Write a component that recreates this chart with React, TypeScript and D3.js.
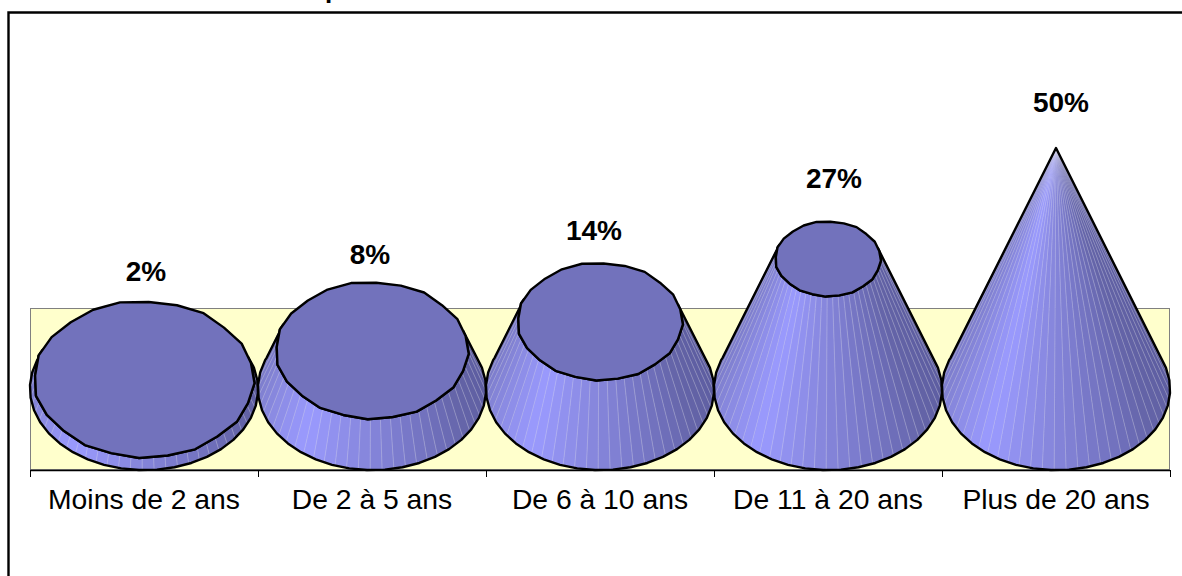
import React from "react";
import * as d3 from "d3";

const categories = ["Moins de 2 ans", "De 2 à 5 ans", "De 6 à 10 ans", "De 11 à 20 ans", "Plus de 20 ans"];
const values = [2, 8, 14, 27, 50];
const valueLabels = ["2%", "8%", "14%", "27%", "50%"];
// hand-read irregularity of the low-resolution rim polygons
const rimWobble = [1.01, 0.995, 1.005, 0.99, 1.01, 1.0, 1.012, 0.995, 1.005, 0.99, 1.0, 1.01, 0.995, 1.008, 1.0, 0.99, 1.005, 1.012, 0.995, 1.0, 1.012, 0.99, 1.005, 1.0];

const W = 1182, H = 576;
const FONT = "'Liberation Sans', Arial, sans-serif";
const RX = 114, RY = 81, SKX = -5, SKY = 4;
const TMIN = -19.6, TMAX = 199.6;
const TOP_SIDE = 15, BASE_SIDE = 9, FACET = 6;

const x = d3.scaleBand<string>().domain(categories).range([30, 1170]);
const y = d3.scaleLinear().domain([0, 50]).range([389, 148]);
const labelY = d3.scaleLinear().domain(values).range([281, 264, 240, 188, 112]);
const labelDx = d3.scaleOrdinal<string, number>().domain(categories).range([2, -2, -6, 6, 5]);
const shade = d3.scaleLinear<string>()
  .domain([-20, 30, 60, 90, 125, 160, 200])
  .range(["#5a5a9c", "#6464a8", "#7474c2", "#8686dc", "#9a9aff", "#8686da", "#7272ba"])
  .interpolate(d3.interpolateRgb);

type Pt = [number, number];
const rad = (d: number) => (d * Math.PI) / 180;

function vertex(t: number, cx: number, cy: number, s: number, wobble: boolean): Pt {
  const a = rad(t);
  const idx = ((Math.round(t / TOP_SIDE) % rimWobble.length) + rimWobble.length) % rimWobble.length;
  const k = wobble ? rimWobble[idx] : 1;
  return [
    cx + k * s * (RX * Math.cos(a) + SKX * Math.sin(a)),
    cy + k * s * (RY * Math.sin(a) + SKY * Math.cos(a)),
  ];
}
function ringPoint(t: number, cx: number, cy: number, s: number, side: number, wobble: boolean): Pt {
  const i = Math.floor(t / side);
  const t0 = i * side, t1 = (i + 1) * side, f = (t - t0) / side;
  const p = vertex(t0, cx, cy, s, wobble), q = vertex(t1, cx, cy, s, wobble);
  return [p[0] + (q[0] - p[0]) * f, p[1] + (q[1] - p[1]) * f];
}
const line = d3.line<Pt>();

function Cone({ cat, v }: { cat: string; v: number }) {
  const cx = (x(cat) as number) + x.bandwidth() / 2;
  const s = 1 - v / 50;
  const topY = y(v);
  const baseY = y(0);
  const b = (t: number) => ringPoint(t, cx, baseY, 1, BASE_SIDE, false);
  const u = (t: number) => ringPoint(t, cx, topY, s, TOP_SIDE, true);
  const ticks = d3.range(TMIN, TMAX, FACET).concat(TMAX);
  const baseTs = d3.range(Math.ceil(TMIN / BASE_SIDE) * BASE_SIDE, TMAX, BASE_SIDE);
  const topTs = d3.range(Math.ceil(TMIN / TOP_SIDE) * TOP_SIDE, TMAX, TOP_SIDE);
  const baseArc = [TMIN, ...baseTs, TMAX].map(b);
  const topArc = [TMIN, ...topTs, TMAX].map(u).reverse();
  const top = d3.range(0, 360, TOP_SIDE).map((t) => vertex(t, cx, topY, s, true));
  return (
    <g>
      {ticks.slice(0, -1).map((t, i) => {
        const t2 = ticks[i + 1];
        const mid = (t + t2) / 2;
        const col = shade(mid);
        return <path key={i} d={line([b(t), b(mid), b(t2), u(t2), u(t)]) + "Z"} fill={col} stroke={col} strokeWidth={0.6} />;
      })}
      {ticks.slice(1, -1).map((t, i) => (
        <path key={i} d={line([b(t), u(t)]) as string} stroke="#d8d8e8" strokeOpacity={0.4} strokeWidth={0.8} fill="none" />
      ))}
      <path d={line([...baseArc, ...topArc]) + "Z"} fill="none" stroke="#000" strokeWidth={2.4} strokeLinejoin="round" />
      {v < 50 && <path d={line(top) + "Z"} fill="#7272bc" stroke="#000" strokeWidth={2.4} strokeLinejoin="round" />}
    </g>
  );
}

export default function App() {
  return (
    <svg width={W} height={H} viewBox={`0 0 ${W} ${H}`} style={{ position: "fixed", left: 0, top: 0, background: "#fff" }}>
      <text x={325} y={-2} fontFamily={FONT} fontWeight="bold" fontSize={26}>p</text>
      <path d={`M${W},12.5H8.5V${H}`} fill="none" stroke="#000" strokeWidth={2.4} />
      <rect x={30.5} y={308.5} width={1139} height={161} fill="#ffffcc" stroke="#808080" strokeWidth={1} />
      <path d="M30,470.5H1170" stroke="#000" strokeWidth={1.4} />
      {d3.range(categories.length + 1).map((i) => {
        const tx = Math.round(30 + i * x.bandwidth()) + 0.5;
        return <path key={i} d={`M${tx},470V477`} stroke="#000" strokeWidth={1} />;
      })}
      {categories.map((c, i) => <Cone key={c} cat={c} v={values[i]} />)}
      {categories.map((c) => (
        <text key={c} x={(x(c) as number) + x.bandwidth() / 2} y={509} textAnchor="middle" fontFamily={FONT} fontSize={28.3} fill="#000">
          {c}
        </text>
      ))}
      {categories.map((c, i) => (
        <text key={c} x={(x(c) as number) + x.bandwidth() / 2 + labelDx(c)} y={labelY(values[i])} textAnchor="middle" fontFamily={FONT} fontWeight="bold" fontSize={28} fill="#000">
          {valueLabels[i]}
        </text>
      ))}
    </svg>
  );
}
